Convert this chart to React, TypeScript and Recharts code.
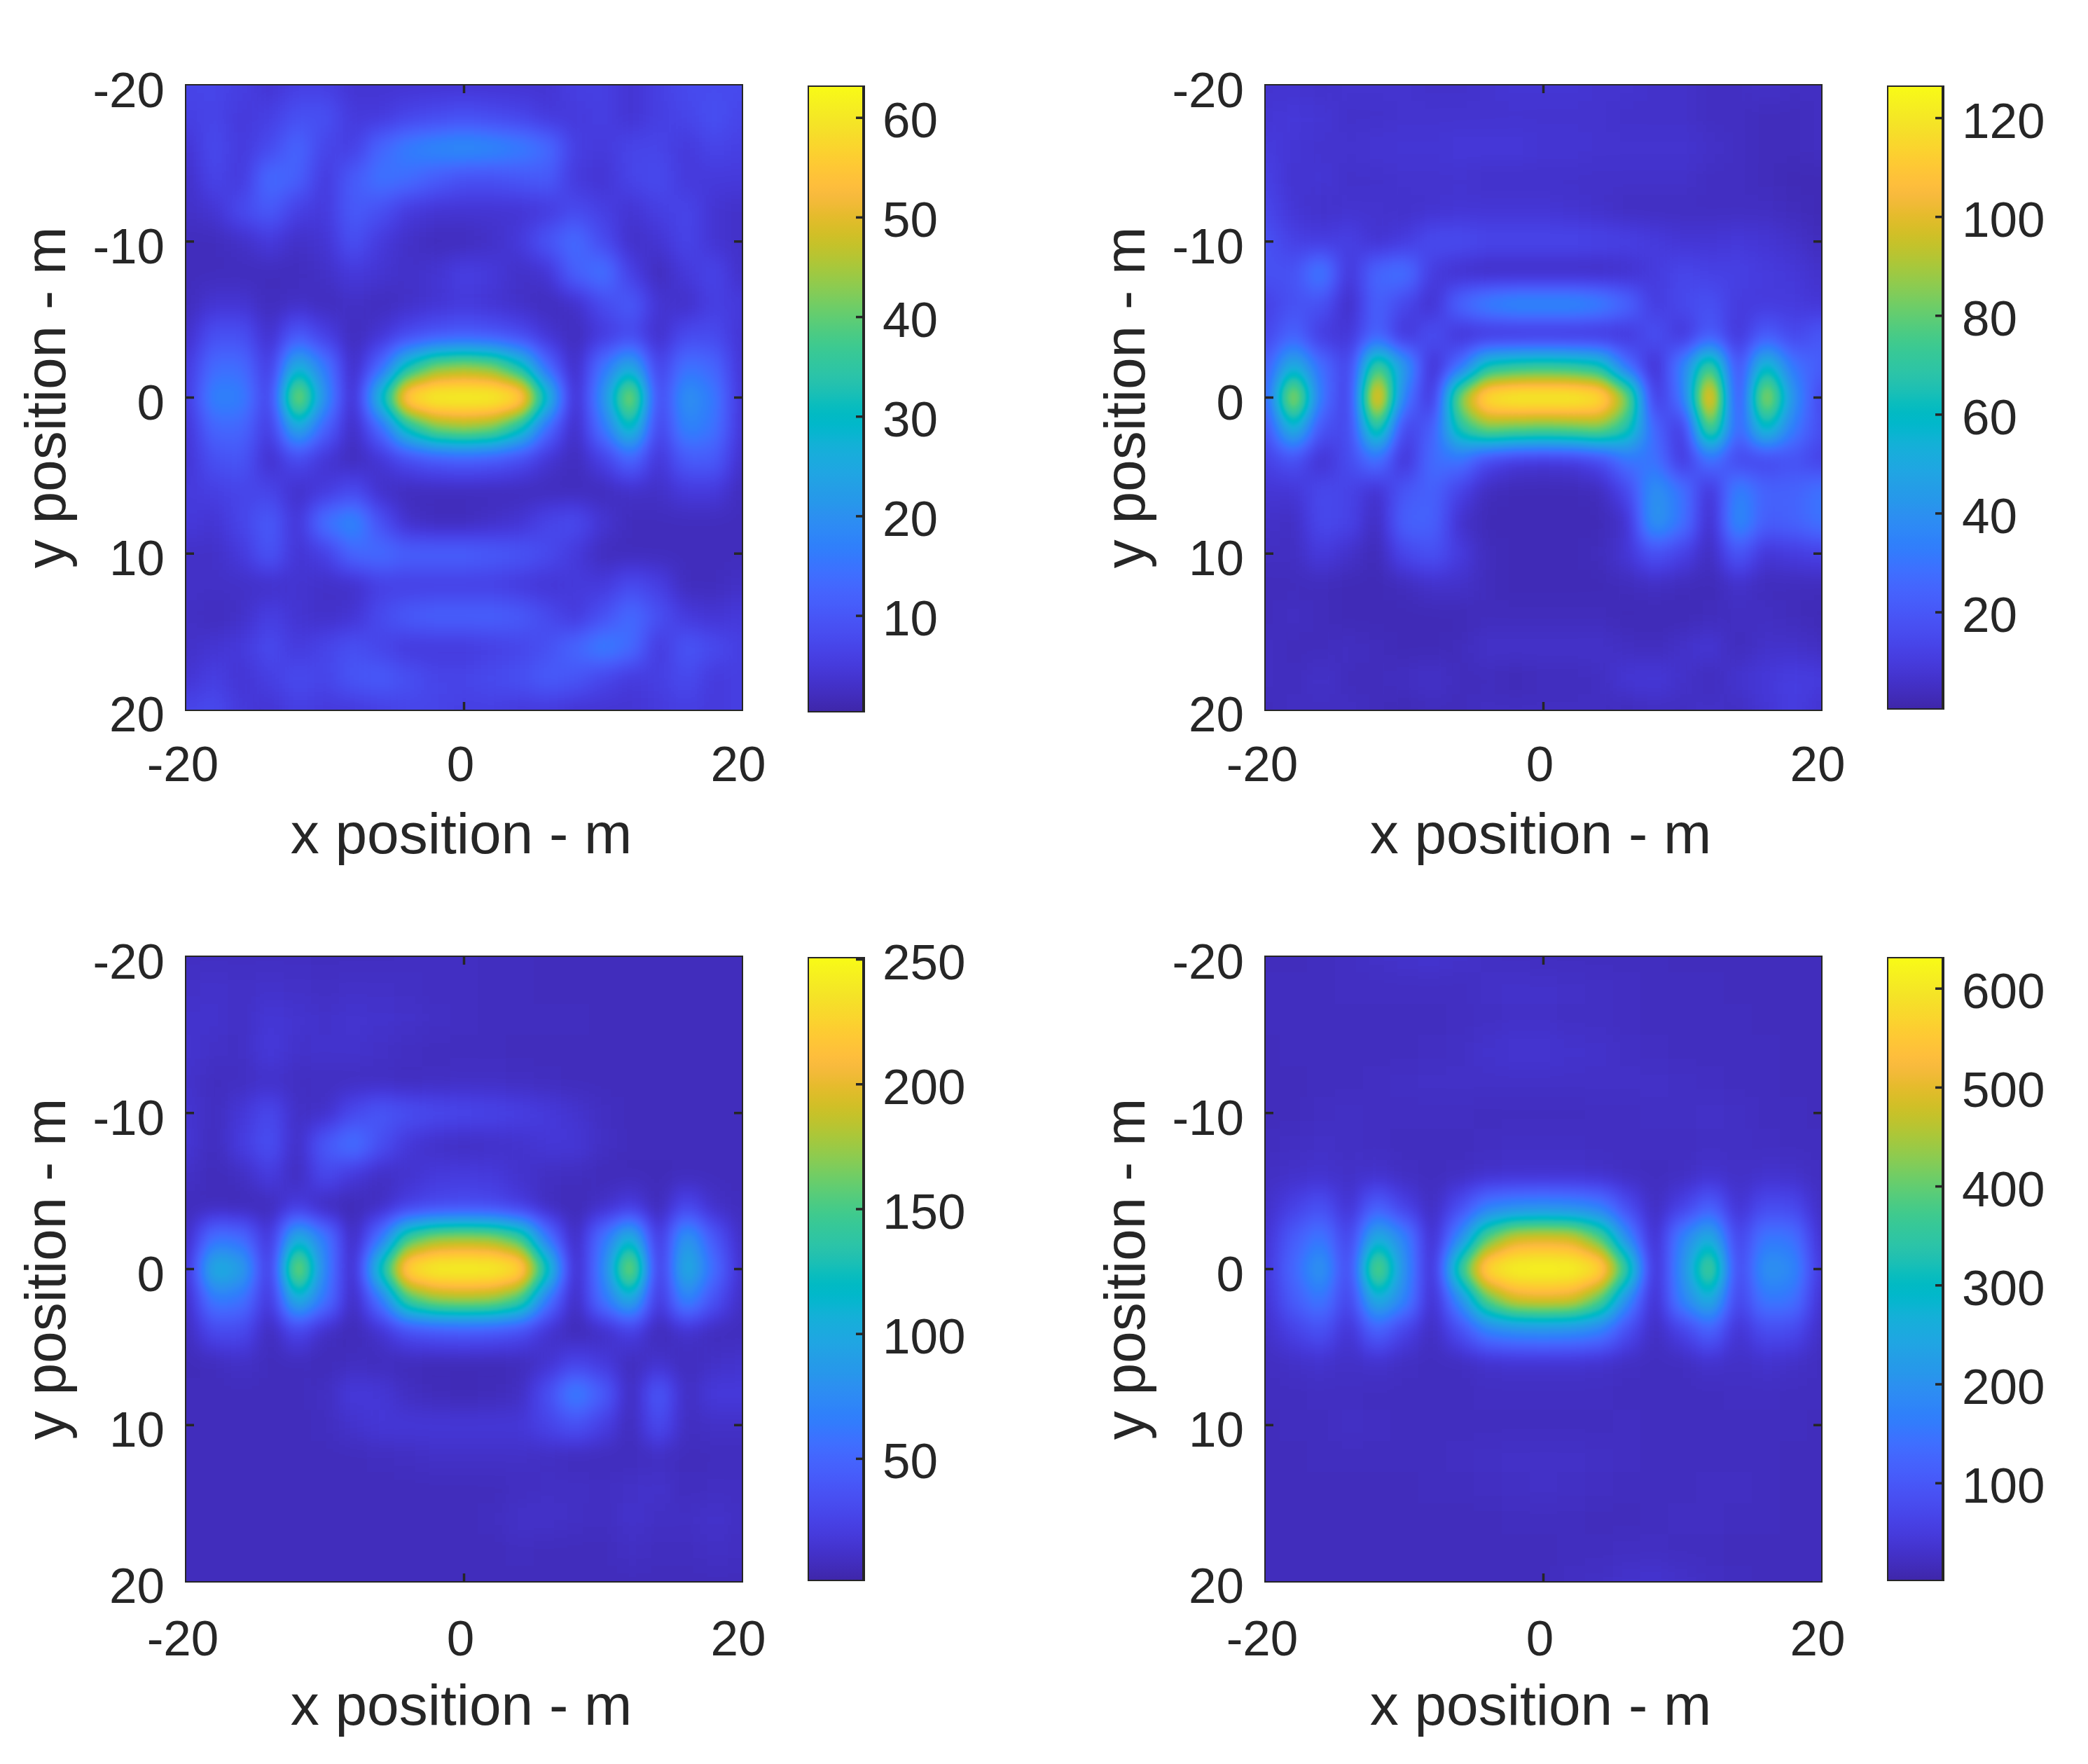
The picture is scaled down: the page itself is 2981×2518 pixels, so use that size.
import React from 'react';
import { Bar, BarChart, ReferenceArea, Scatter, ScatterChart, XAxis, YAxis } from 'recharts';

const gridX = [-20, -18, -16, -14, -12, -10, -8, -6, -4, -2, 0, 2, 4, 6, 8, 10, 12, 14, 16, 18, 20];
const gridY = [-20, -18, -16, -14, -12, -10, -8, -6, -4, -2, 0, 2, 4, 6, 8, 10, 12, 14, 16, 18, 20];
const xTicks = [-20, 0, 20];
const yTicks = [-20, -10, 0, 10, 20];
const sideTicks = [-10, 0, 10];

// each row is one y position
const field1 = [
  [7, 7, 6, 4, 6, 6, 4, 4, 4, 4, 4, 4, 4, 4, 6, 6, 4, 6, 8, 8, 8],
  [6, 7, 5, 6, 9, 9, 5, 5, 7, 8, 9, 8, 7, 5, 5, 6, 4, 6, 7, 9, 7],
  [4, 8, 5, 8, 13, 7, 6, 13, 17, 19, 20, 19, 17, 14, 6, 5, 7, 7, 5, 7, 6],
  [3, 7, 5, 14, 12, 5, 11, 15, 14, 11, 9, 9, 10, 11, 5, 4, 7, 8, 5, 5, 5],
  [3, 4, 8, 11, 6, 5, 11, 9, 5, 4, 4, 4, 4, 5, 8, 6, 4, 6, 7, 4, 3],
  [2, 2, 3, 5, 3, 4, 9, 5, 3, 2, 2, 3, 5, 10, 14, 8, 3, 4, 7, 4, 3],
  [2, 2, 2, 2, 2, 3, 5, 4, 3, 4, 6, 5, 3, 4, 12, 15, 6, 2, 5, 7, 3],
  [2, 4, 4, 2, 3, 2, 3, 2, 3, 4, 5, 4, 3, 2, 3, 8, 11, 4, 3, 6, 5],
  [3, 9, 9, 3, 11, 6, 2, 4, 8, 10, 11, 10, 8, 4, 2, 5, 8, 3, 8, 8, 4],
  [5, 14, 14, 5, 28, 16, 2, 13, 32, 42, 44, 42, 32, 13, 2, 15, 26, 6, 15, 13, 4],
  [5, 18, 17, 6, 48, 20, 2, 30, 60, 64, 65, 64, 60, 30, 2, 20, 48, 7, 21, 16, 4],
  [4, 13, 13, 5, 26, 12, 2, 13, 32, 42, 44, 42, 32, 13, 2, 15, 32, 6, 18, 15, 4],
  [4, 9, 10, 3, 8, 4, 2, 4, 8, 10, 11, 10, 8, 4, 2, 6, 13, 4, 11, 11, 3],
  [5, 6, 7, 7, 3, 5, 8, 3, 2, 2, 2, 2, 2, 2, 2, 2, 3, 3, 5, 5, 2],
  [5, 4, 7, 11, 4, 15, 19, 9, 3, 2, 2, 3, 4, 7, 8, 4, 2, 2, 2, 2, 2],
  [3, 3, 5, 10, 4, 6, 13, 14, 12, 12, 12, 11, 10, 8, 5, 2, 2, 2, 2, 2, 2],
  [3, 3, 3, 3, 4, 3, 3, 6, 6, 6, 6, 6, 5, 4, 5, 5, 8, 6, 2, 2, 3],
  [3, 2, 3, 6, 4, 3, 4, 8, 11, 12, 12, 12, 11, 8, 5, 9, 14, 9, 5, 4, 5],
  [3, 4, 5, 8, 5, 7, 9, 7, 5, 5, 5, 6, 7, 9, 13, 17, 14, 5, 10, 8, 6],
  [4, 6, 4, 6, 8, 7, 10, 11, 9, 7, 7, 8, 9, 11, 10, 7, 5, 6, 8, 5, 6],
  [7, 8, 5, 4, 6, 5, 5, 6, 7, 7, 6, 6, 5, 5, 4, 4, 4, 5, 6, 5, 6],
];

const field2 = [
  [7, 7, 6, 7, 7, 7, 6, 6, 7, 8, 8, 8, 7, 7, 6, 6, 5, 5, 6, 5, 5],
  [8, 9, 8, 6, 6, 7, 7, 7, 7, 7, 7, 7, 7, 6, 6, 6, 5, 5, 4, 4, 5],
  [10, 8, 7, 7, 8, 8, 8, 9, 9, 9, 8, 8, 7, 7, 7, 7, 6, 5, 4, 4, 5],
  [12, 7, 8, 6, 6, 7, 7, 7, 6, 6, 6, 6, 6, 6, 6, 6, 5, 5, 4, 3, 3],
  [14, 8, 6, 7, 7, 6, 7, 8, 8, 8, 8, 7, 6, 5, 5, 5, 5, 5, 5, 4, 3],
  [18, 12, 10, 12, 7, 10, 16, 16, 14, 14, 14, 14, 13, 12, 10, 8, 8, 9, 8, 6, 4],
  [18, 18, 34, 8, 26, 30, 10, 6, 5, 5, 5, 5, 5, 6, 10, 14, 12, 12, 10, 9, 6],
  [12, 18, 18, 5, 24, 14, 6, 26, 36, 40, 40, 40, 36, 26, 10, 15, 18, 10, 10, 10, 8],
  [14, 25, 10, 8, 25, 7, 18, 7, 7, 7, 7, 7, 7, 8, 18, 8, 22, 8, 22, 14, 20],
  [22, 55, 28, 12, 80, 45, 5, 28, 65, 70, 72, 70, 65, 28, 5, 35, 80, 15, 62, 30, 22],
  [24, 100, 30, 10, 118, 32, 6, 90, 122, 127, 129, 127, 122, 90, 8, 30, 118, 12, 98, 40, 14],
  [18, 58, 18, 14, 75, 12, 22, 68, 85, 82, 80, 82, 85, 68, 25, 8, 85, 22, 62, 32, 16],
  [12, 18, 6, 16, 30, 6, 28, 30, 14, 9, 8, 9, 14, 30, 30, 8, 30, 14, 14, 18, 12],
  [8, 8, 15, 13, 6, 20, 24, 12, 4, 3, 3, 3, 4, 14, 42, 30, 6, 36, 24, 24, 30],
  [6, 5, 15, 13, 4, 24, 24, 6, 3, 3, 3, 3, 3, 6, 44, 30, 4, 40, 22, 24, 30],
  [5, 5, 10, 6, 3, 14, 18, 10, 4, 3, 3, 3, 4, 8, 18, 12, 4, 20, 8, 10, 12],
  [4, 4, 4, 3, 3, 4, 6, 6, 4, 3, 3, 3, 3, 4, 5, 4, 3, 6, 4, 4, 4],
  [4, 5, 4, 3, 3, 3, 3, 3, 4, 4, 4, 4, 4, 3, 3, 3, 4, 5, 5, 4, 3],
  [5, 4, 4, 5, 4, 3, 3, 4, 6, 6, 6, 6, 6, 5, 4, 6, 8, 4, 6, 6, 5],
  [5, 4, 6, 4, 4, 5, 6, 4, 4, 3, 4, 4, 5, 8, 9, 6, 4, 7, 9, 11, 10],
  [4, 5, 5, 5, 4, 3, 4, 4, 5, 5, 5, 5, 5, 4, 5, 5, 6, 5, 8, 11, 7],
];

const field3 = [
  [10, 10, 10, 10, 10, 9, 9, 9, 10, 10, 10, 9, 9, 8, 8, 8, 8, 8, 8, 8, 8],
  [12, 13, 12, 13, 12, 11, 12, 12, 11, 10, 10, 9, 9, 8, 8, 8, 8, 8, 8, 8, 8],
  [14, 14, 11, 18, 15, 13, 15, 14, 13, 11, 10, 9, 9, 9, 9, 8, 8, 8, 8, 8, 8],
  [15, 12, 11, 20, 13, 14, 14, 12, 10, 9, 9, 9, 8, 8, 8, 8, 8, 8, 8, 8, 8],
  [14, 9, 10, 13, 10, 10, 10, 10, 9, 10, 11, 11, 10, 9, 8, 8, 8, 8, 8, 8, 8],
  [16, 9, 18, 30, 11, 12, 30, 40, 34, 30, 28, 26, 24, 20, 15, 10, 8, 8, 8, 8, 8],
  [17, 8, 22, 35, 10, 42, 60, 34, 18, 12, 10, 12, 14, 18, 18, 11, 8, 8, 8, 8, 8],
  [12, 7, 10, 22, 8, 30, 18, 10, 14, 20, 21, 20, 14, 10, 9, 7, 7, 7, 8, 8, 8],
  [8, 8, 7, 7, 22, 7, 6, 10, 24, 30, 32, 30, 22, 9, 6, 12, 22, 6, 30, 12, 8],
  [10, 60, 55, 15, 110, 65, 6, 60, 150, 175, 178, 175, 150, 60, 6, 60, 115, 15, 90, 40, 10],
  [14, 110, 95, 15, 190, 70, 6, 130, 238, 250, 255, 250, 238, 130, 6, 70, 190, 15, 110, 55, 12],
  [10, 65, 60, 15, 110, 60, 6, 60, 150, 175, 178, 175, 150, 60, 6, 60, 105, 15, 75, 35, 10],
  [8, 30, 30, 7, 28, 10, 6, 14, 32, 38, 40, 38, 32, 14, 6, 10, 24, 6, 14, 8, 8],
  [7, 8, 12, 8, 8, 7, 9, 8, 7, 6, 6, 6, 7, 14, 26, 20, 8, 14, 8, 12, 14],
  [8, 8, 8, 8, 8, 10, 20, 18, 10, 7, 6, 7, 10, 34, 70, 45, 7, 42, 10, 20, 20],
  [8, 8, 8, 8, 8, 9, 14, 18, 18, 18, 18, 18, 18, 26, 36, 24, 7, 32, 9, 12, 12],
  [8, 8, 8, 8, 8, 8, 8, 9, 10, 12, 12, 12, 12, 10, 8, 8, 8, 10, 8, 8, 8],
  [8, 8, 8, 8, 8, 8, 8, 8, 8, 8, 8, 8, 9, 11, 11, 10, 12, 14, 8, 10, 10],
  [8, 8, 8, 8, 8, 8, 8, 8, 8, 8, 8, 9, 13, 13, 11, 9, 14, 11, 11, 14, 10],
  [8, 8, 8, 8, 8, 8, 8, 8, 8, 8, 8, 8, 9, 8, 8, 8, 11, 9, 9, 11, 10],
  [8, 8, 8, 8, 8, 8, 8, 8, 8, 8, 8, 8, 8, 8, 8, 8, 8, 8, 8, 8, 8],
];

const field4 = [
  [18, 18, 20, 24, 28, 34, 36, 30, 26, 24, 22, 22, 20, 20, 20, 18, 18, 18, 18, 18, 18],
  [20, 20, 22, 24, 24, 24, 24, 24, 28, 30, 30, 28, 26, 24, 22, 20, 20, 18, 18, 18, 18],
  [20, 20, 20, 22, 22, 22, 22, 24, 26, 28, 28, 26, 26, 24, 22, 20, 20, 20, 18, 18, 18],
  [18, 20, 20, 22, 22, 22, 24, 26, 32, 38, 38, 34, 30, 26, 24, 22, 20, 20, 20, 18, 18],
  [18, 18, 20, 22, 24, 26, 28, 28, 28, 28, 28, 28, 28, 28, 28, 26, 24, 22, 20, 18, 18],
  [18, 18, 24, 26, 24, 24, 24, 24, 22, 22, 22, 22, 24, 24, 26, 26, 28, 26, 22, 20, 18],
  [20, 24, 28, 26, 24, 22, 22, 22, 24, 26, 26, 26, 24, 24, 24, 24, 26, 26, 24, 22, 20],
  [24, 30, 34, 28, 34, 24, 22, 24, 30, 34, 34, 34, 30, 24, 22, 24, 36, 26, 34, 30, 22],
  [28, 60, 90, 32, 120, 60, 20, 80, 165, 185, 190, 185, 165, 80, 20, 60, 120, 32, 80, 75, 24],
  [36, 110, 160, 60, 270, 180, 20, 190, 400, 490, 500, 490, 400, 190, 20, 180, 270, 60, 160, 150, 30],
  [42, 130, 220, 65, 450, 200, 20, 370, 600, 630, 640, 630, 600, 370, 20, 200, 420, 65, 210, 190, 40],
  [36, 110, 160, 60, 270, 180, 20, 190, 400, 490, 500, 490, 400, 190, 20, 180, 270, 60, 160, 150, 30],
  [28, 60, 90, 32, 120, 60, 20, 80, 165, 185, 190, 185, 165, 80, 20, 60, 120, 32, 80, 75, 24],
  [22, 28, 34, 26, 34, 24, 20, 22, 30, 34, 34, 34, 30, 24, 20, 22, 34, 26, 34, 28, 22],
  [20, 22, 24, 24, 22, 20, 20, 22, 24, 24, 24, 24, 24, 22, 20, 20, 22, 24, 24, 22, 20],
  [18, 20, 22, 26, 24, 22, 22, 22, 22, 20, 20, 20, 22, 24, 22, 22, 22, 22, 22, 20, 18],
  [18, 18, 20, 20, 20, 20, 22, 24, 26, 28, 28, 28, 26, 24, 22, 20, 20, 20, 20, 18, 18],
  [18, 18, 18, 18, 18, 18, 20, 20, 24, 26, 28, 26, 24, 22, 20, 20, 24, 24, 20, 18, 18],
  [18, 18, 18, 18, 18, 18, 18, 18, 18, 20, 20, 20, 18, 18, 20, 24, 24, 20, 20, 18, 18],
  [18, 18, 18, 18, 18, 18, 18, 18, 18, 18, 18, 20, 22, 24, 24, 22, 20, 18, 18, 18, 18],
  [18, 18, 18, 18, 18, 18, 18, 18, 18, 18, 18, 24, 26, 34, 36, 30, 24, 20, 18, 18, 18],
];

const colorbarTicks1 = [10, 20, 30, 40, 50, 60];
const colorbarTicks2 = [20, 40, 60, 80, 100, 120];
const colorbarTicks3 = [50, 100, 150, 200, 250];
const colorbarTicks4 = [100, 200, 300, 400, 500, 600];

// parula
const parulaR = [0.2422, 0.2504, 0.2578, 0.2647, 0.2706, 0.2751, 0.2783, 0.2803, 0.2813, 0.281, 0.2795, 0.276, 0.2699, 0.2602, 0.244, 0.2206, 0.1963, 0.1834, 0.1786, 0.1764, 0.1687, 0.154, 0.146, 0.138, 0.1248, 0.1113, 0.0952, 0.0689, 0.0297, 0.0036, 0.0067, 0.0433, 0.0964, 0.1408, 0.1717, 0.1938, 0.2161, 0.247, 0.2906, 0.3406, 0.3909, 0.4456, 0.5044, 0.5616, 0.6174, 0.672, 0.7242, 0.7738, 0.8203, 0.8634, 0.9035, 0.9393, 0.9728, 0.9956, 0.997, 0.9952, 0.9892, 0.9786, 0.9676, 0.961, 0.9597, 0.9628, 0.9691, 0.9769];
const parulaG = [0.1504, 0.165, 0.1818, 0.1978, 0.2147, 0.2342, 0.2559, 0.2782, 0.3006, 0.3228, 0.3447, 0.3667, 0.3892, 0.4123, 0.4358, 0.4603, 0.4847, 0.5074, 0.5289, 0.5499, 0.5703, 0.5902, 0.6091, 0.6276, 0.6459, 0.6635, 0.6798, 0.6948, 0.7082, 0.7203, 0.7312, 0.7411, 0.75, 0.7584, 0.767, 0.7758, 0.7843, 0.7918, 0.7973, 0.8008, 0.8029, 0.8024, 0.7993, 0.7942, 0.7876, 0.7793, 0.7698, 0.7598, 0.7498, 0.7406, 0.733, 0.7288, 0.7298, 0.7434, 0.7659, 0.7893, 0.8136, 0.8386, 0.8639, 0.889, 0.9135, 0.9373, 0.9606, 0.9839];
const parulaB = [0.6603, 0.7076, 0.7511, 0.7952, 0.8364, 0.871, 0.8991, 0.9221, 0.9414, 0.9579, 0.9717, 0.9829, 0.9906, 0.9952, 0.9988, 0.9973, 0.9892, 0.9798, 0.9682, 0.952, 0.9359, 0.9218, 0.9079, 0.8973, 0.8883, 0.8763, 0.8598, 0.8394, 0.8163, 0.7917, 0.766, 0.7394, 0.712, 0.6842, 0.6554, 0.6251, 0.5923, 0.5567, 0.5188, 0.4789, 0.4354, 0.3909, 0.348, 0.3045, 0.2612, 0.2227, 0.191, 0.1646, 0.1535, 0.1596, 0.1774, 0.21, 0.2394, 0.2371, 0.2199, 0.2028, 0.1885, 0.1766, 0.1643, 0.1537, 0.1423, 0.1265, 0.1064, 0.0805];

const INK = '#262626';
const FONT = '"Liberation Sans", Arial, sans-serif';
const TICK_FONT = 71;
const PLOT_W = 793;
const PLOT_H = 891;
const LEFT_SPACE = 266;
const RIGHT_SPACE = 70;
const TOP_SPACE = 40;
const BOTTOM_SPACE = 230;
const BAR_W = 80;
const BAR_LABEL_SPACE = 180;
const BLEED = 80;

const HeatCell = (props: any) => {
  const { cx, cy, payload, level } = props;
  const w = PLOT_W / (gridX.length - 1);
  const h = PLOT_H / (gridY.length - 1);
  const gray = Math.max(0, Math.min(255, Math.round(level(payload.v))));
  const x0 = cx - w / 2 - (payload.x === gridX[0] ? BLEED : 0);
  const x1 = cx + w / 2 + (payload.x === gridX[gridX.length - 1] ? BLEED : 0);
  const y0 = cy - h / 2 - (payload.y === gridY[0] ? BLEED : 0);
  const y1 = cy + h / 2 + (payload.y === gridY[gridY.length - 1] ? BLEED : 0);
  return <rect x={x0} y={y0} width={x1 - x0} height={y1 - y0} fill={`rgb(${gray},${gray},${gray})`} shapeRendering="crispEdges" />;
};

const XTick = ({ x, y, payload, labelDrop }: any) => (
  <g>
    {payload.value === 0 && <line x1={x} x2={x} y1={y} y2={y - 11} stroke={INK} strokeWidth={3.5} />}
    {payload.value === 0 && <line x1={x} x2={x} y1={y - PLOT_H} y2={y - PLOT_H + 11} stroke={INK} strokeWidth={3.5} />}
    <text x={x - 5} y={y + labelDrop} textAnchor="middle" fontSize={TICK_FONT} fontFamily={FONT} fill={INK}>{payload.value}</text>
  </g>
);

const YTick = ({ x, y, payload }: any) => (
  <g>
    {sideTicks.includes(payload.value) && <line x1={x} x2={x + 11} y1={y} y2={y} stroke={INK} strokeWidth={3.5} />}
    {sideTicks.includes(payload.value) && <line x1={x + PLOT_W} x2={x + PLOT_W - 11} y1={y} y2={y} stroke={INK} strokeWidth={3.5} />}
    <text x={x - 31} y={y + 31} textAnchor="end" fontSize={TICK_FONT} fontFamily={FONT} fill={INK}>{payload.value}</text>
  </g>
);

const BarTick = ({ x, y, payload }: any) => (
  <g>
    <line x1={x} x2={x - 11} y1={y} y2={y} stroke={INK} strokeWidth={3.5} />
    <text x={x + 27} y={y + 28} textAnchor="start" fontSize={TICK_FONT} fontFamily={FONT} fill={INK}>{payload.value}</text>
  </g>
);

const HeatPanel = ({ id, field, low, high, ticks, left, top, barLeft, barExtra, labelDrop }: any) => {
  const points = field.flatMap((row: number[], r: number) =>
    row.map((v, c) => ({ x: gridX[c], y: gridY[r], v }))
  );
  const level = (v: number) => ((v - low) / (high - low)) * 255;
  const stops = parulaR.map((_, i) => i);
  return (
    <>
      <style>{`.heat-${id} .recharts-scatter { filter: url(#field-${id}); }`}</style>
      <div className={`heat-${id}`} style={{ position: 'absolute', left: left - LEFT_SPACE, top: top - TOP_SPACE }}>
        <ScatterChart
          width={LEFT_SPACE + PLOT_W + RIGHT_SPACE}
          height={TOP_SPACE + PLOT_H + BOTTOM_SPACE}
          margin={{ top: TOP_SPACE, right: RIGHT_SPACE, bottom: 0, left: 0 }}
        >
          <defs>
            <filter
              id={`field-${id}`}
              filterUnits="userSpaceOnUse"
              x={0}
              y={0}
              width={LEFT_SPACE + PLOT_W + RIGHT_SPACE + 60}
              height={TOP_SPACE + PLOT_H + BOTTOM_SPACE}
              colorInterpolationFilters="sRGB"
            >
              <feGaussianBlur in="SourceGraphic" stdDeviation="15 17" result="soft" />
              <feComponentTransfer in="soft" result="mapped">
                <feFuncR type="table" tableValues={parulaR.join(' ')} />
                <feFuncG type="table" tableValues={parulaG.join(' ')} />
                <feFuncB type="table" tableValues={parulaB.join(' ')} />
              </feComponentTransfer>
              <feFlood x={LEFT_SPACE} y={TOP_SPACE} width={PLOT_W} height={PLOT_H} floodColor="#fff" result="plot" />
              <feComposite in="mapped" in2="plot" operator="in" />
            </filter>
          </defs>
          <Scatter
            data={points}
            isAnimationActive={false}
            shape={(p: any) => <HeatCell {...p} level={level} />}
          />
          <XAxis
            type="number"
            dataKey="x"
            domain={[-20, 20]}
            ticks={xTicks}
            interval={0}
            height={BOTTOM_SPACE}
            tickSize={0}
            tickMargin={0}
            axisLine={false}
            tick={(p: any) => <XTick {...p} labelDrop={labelDrop} />}
            label={{ value: 'x position - m', position: 'insideBottom', offset: 25, dx: -4, fontSize: 82, fontFamily: FONT, fill: INK }}
          />
          <YAxis
            type="number"
            dataKey="y"
            reversed
            domain={[-20, 20]}
            ticks={yTicks}
            interval={0}
            width={LEFT_SPACE}
            tickSize={0}
            tickMargin={0}
            axisLine={false}
            tick={YTick}
            label={{ value: 'y position - m', angle: -90, position: 'insideLeft', offset: 64, fontSize: 82, fontFamily: FONT, fill: INK, textAnchor: 'middle' }}
          />
          <ReferenceArea x1={-20} x2={20} y1={-20} y2={20} fill="none" stroke={INK} strokeWidth={4} />
        </ScatterChart>
      </div>
      <div style={{ position: 'absolute', left: barLeft, top: top - TOP_SPACE }}>
        <BarChart
          width={BAR_W + BAR_LABEL_SPACE + 40}
          height={TOP_SPACE + PLOT_H + barExtra + 20}
          data={[{ name: 'scale', value: high }]}
          margin={{ top: TOP_SPACE, right: 40, bottom: 20, left: 0 }}
          barCategoryGap={0}
        >
          <defs>
            <linearGradient id={`scale-${id}`} x1="0" y1="1" x2="0" y2="0">
              {stops.map((i) => (
                <stop
                  key={i}
                  offset={i / (stops.length - 1)}
                  stopColor={`rgb(${Math.round(parulaR[i] * 255)},${Math.round(parulaG[i] * 255)},${Math.round(parulaB[i] * 255)})`}
                />
              ))}
            </linearGradient>
          </defs>
          <XAxis dataKey="name" hide />
          <Bar dataKey="value" fill={`url(#scale-${id})`} stroke={INK} strokeWidth={4} isAnimationActive={false} />
          <YAxis
            orientation="right"
            type="number"
            domain={[low, high]}
            allowDataOverflow
            ticks={ticks}
            interval={0}
            width={BAR_LABEL_SPACE}
            tickSize={0}
            tickMargin={0}
            axisLine={false}
            tick={BarTick}
          />
        </BarChart>
      </div>
    </>
  );
};

export default function App() {
  return (
    <div style={{ position: 'absolute', left: 0, top: 0, width: 2981, height: 2518, background: '#fff', overflow: 'hidden' }}>
      <HeatPanel id="a" field={field1} low={0.3} high={63.25} ticks={colorbarTicks1} left={266} top={122} barLeft={1153} barExtra={4} labelDrop={102} />
      <HeatPanel id="b" field={field2} low={0.3} high={126.6} ticks={colorbarTicks2} left={1807} top={122} barLeft={2694} barExtra={0} labelDrop={102} />
      <HeatPanel id="c" field={field3} low={1} high={251} ticks={colorbarTicks3} left={266} top={1366} barLeft={1153} barExtra={0} labelDrop={106} />
      <HeatPanel id="d" field={field4} low={1} high={632} ticks={colorbarTicks4} left={1807} top={1366} barLeft={2694} barExtra={0} labelDrop={106} />
    </div>
  );
}
